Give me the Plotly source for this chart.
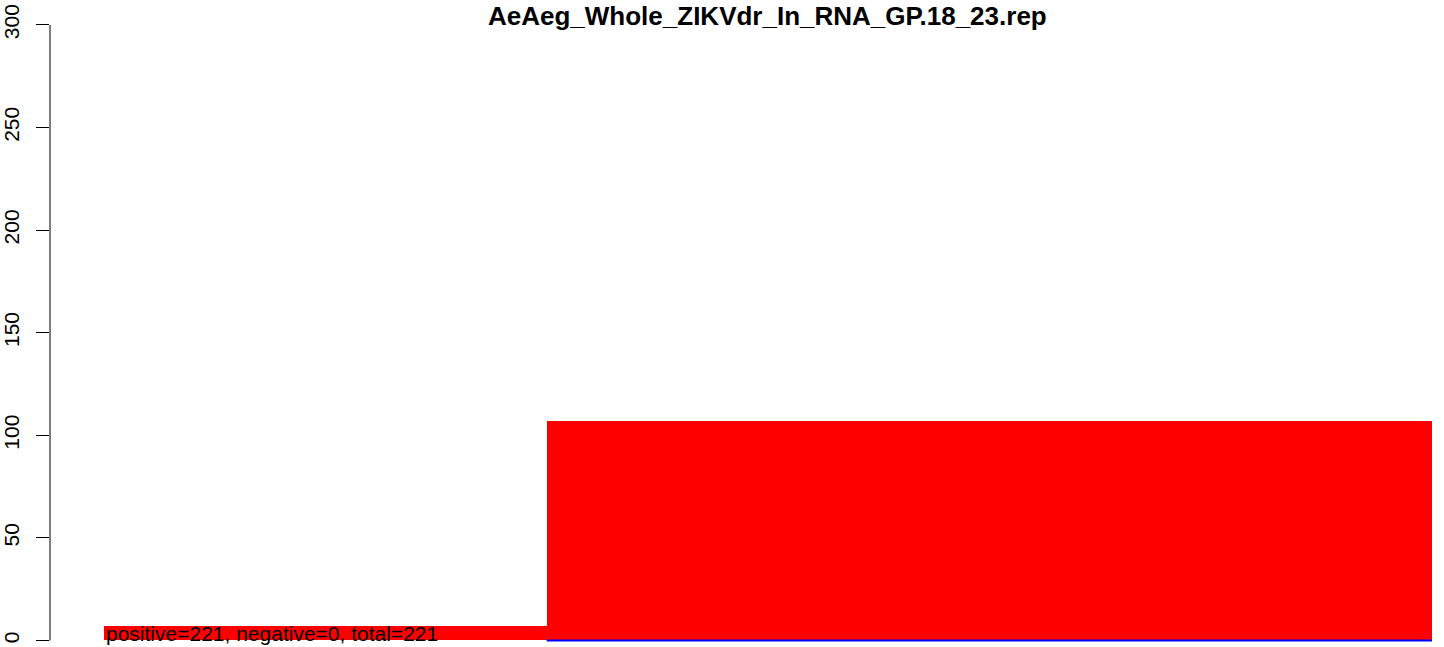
import plotly.graph_objects as go

# bins (edges) and read counts
bin_edges = [0, 1, 3]
positive = [7, 107]
negative = [0, 0]
y_ticks = [0, 50, 100, 150, 200, 250, 300]
title_text = "AeAeg_Whole_ZIKVdr_In_RNA_GP.18_23.rep"
info_text = "positive=221, negative=0, total=221"

font_family = "Liberation Sans, Arial, Helvetica, sans-serif"

centers = [(a + b) / 2 for a, b in zip(bin_edges[:-1], bin_edges[1:])]
widths = [b - a for a, b in zip(bin_edges[:-1], bin_edges[1:])]

fig = go.Figure()

# positive counts as red blocks
fig.add_trace(
    go.Bar(
        x=centers,
        y=positive,
        width=widths,
        marker=dict(color="#ff0000", line=dict(width=0)),
        showlegend=False,
        hoverinfo="skip",
    )
)

# negative counts in blue (drawn as line at -value), only the last bin shows
neg_x, neg_y = [], []
for a, b, v in zip(bin_edges[1:-1], bin_edges[2:], negative[1:]):
    neg_x += [a, b, None]
    neg_y += [-v, -v, None]
fig.add_trace(
    go.Scatter(
        x=neg_x,
        y=neg_y,
        mode="lines",
        line=dict(color="#0000ff", width=2),
        showlegend=False,
        hoverinfo="skip",
    )
)

# R-style y axis line, only across the tick range
fig.add_shape(
    type="line",
    xref="paper",
    yref="y",
    x0=0,
    x1=0,
    y0=y_ticks[0],
    y1=y_ticks[-1],
    line=dict(color="black", width=1),
)

fig.add_annotation(
    x=bin_edges[0],
    y=0,
    xref="x",
    yref="y",
    text=info_text,
    showarrow=False,
    xanchor="left",
    yanchor="bottom",
    yshift=-7,
    font=dict(family=font_family, size=21, color="black"),
)

fig.add_annotation(
    x=0.515,
    y=1,
    xref="paper",
    yref="paper",
    text="<b>" + title_text + "</b>",
    showarrow=False,
    xanchor="center",
    yanchor="top",
    yshift=1,
    font=dict(family=font_family, size=26, color="black"),
)

fig.update_xaxes(
    range=[-0.122, 3.027],
    visible=False,
)
fig.update_yaxes(
    range=[-3.17, 312.1],
    tickmode="array",
    tickvals=y_ticks,
    ticktext=[str(v) for v in y_ticks],
    tickangle=-90,
    ticks="outside",
    ticklen=13,
    tickcolor="black",
    tickwidth=1,
    ticklabelstandoff=9,
    automargin=False,
    showgrid=False,
    zeroline=False,
    showline=False,
    tickfont=dict(family=font_family, size=21, color="black"),
)

fig.update_layout(
    width=1444,
    height=647,
    margin=dict(l=50, r=0, t=0, b=0),
    plot_bgcolor="white",
    paper_bgcolor="white",
    bargap=0,
)

# no page margin so the figure sits at the window's top-left corner
fig.write_html(
    "out.html",
    config={"displayModeBar": False},
    post_script="document.body.style.margin='0';",
)
